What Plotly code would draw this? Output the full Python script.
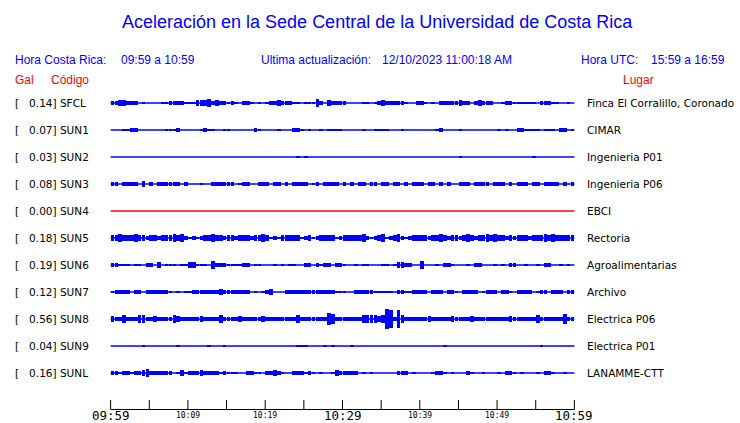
import plotly.graph_objects as go

# ---------------- data ----------------
CODES = ["SFCL", "SUN1", "SUN2", "SUN3", "SUN4", "SUN5", "SUN6", "SUN7", "SUN8", "SUN9", "SUNL"]
GAL = [0.14, 0.07, 0.03, 0.08, 0.00, 0.18, 0.19, 0.12, 0.56, 0.04, 0.16]
PLACES = ["Finca El Corralillo, Coronado", "CIMAR", "Ingenieria P01", "Ingenieria P06", "EBCI",
          "Rectoria", "Agroalimentarias", "Archivo", "Electrica P06", "Electrica P01", "LANAMME-CTT"]
TRACE_COLORS = ["#0000ff"] * 4 + ["#ff0000"] + ["#0000ff"] * 6

TIME_RANGE = [0, 60]          # minutes after 09:59
BIN_MIN = 0.5                  # envelope bins of 30 s
MINOR_TICKS = [0, 5, 10, 15, 20, 25, 30, 35, 40, 45, 50, 55, 60]
TICK_POS = [0, 10, 20, 30, 40, 50, 60]
TICK_LABELS = ["09:59", "10:09", "10:19", "10:29", "10:39", "10:49", "10:59"]
TICK_MAJOR = [True, False, False, True, False, False, True]

# amplitude envelope level per 30 s bin
SFCL = [2,2,3,3,2,2,2,0,1,0, 0,0,0,1,1,2,2,2,2,1, 1,1,3,3,3,4,2,3,2,2, 1,2,1,0,2,2,1,0,1,0,
        1,2,2,3,2,2,2,1,1,0, 1,1,1,4,2,0,3,2,2,2, 2,0,0,0,0,1,1,0,1,2, 3,2,2,2,2,2,1,0,0,2,
        2,1,0,1,0,2,2,2,2,2, 3,2,2,0,2,3,2,2,2,0, 0,1,2,2,1,1,1,1,1,1, 0,2,2,2,1,1,0,0,1,0]
SUN1 = [0,0,0,1,1,2,2,0,0,0, 0,0,0,0,1,1,1,2,0,0, 0,0,0,1,2,1,1,0,0,1, 1,0,0,0,0,0,0,2,1,0,
        0,0,0,1,0,0,0,2,2,1, 0,1,0,0,1,0,1,1,1,1, 0,0,0,0,0,1,0,0,1,1, 1,1,0,0,0,1,0,0,0,0,
        0,0,0,0,1,2,0,0,0,0, 1,0,0,0,0,0,0,0,0,0, 1,0,1,0,0,2,2,1,1,1, 1,0,1,1,1,0,2,2,0,1]
SUN2 = [0,0,0,0,0,0,0,0,0,0, 0,0,0,0,0,0,0,0,0,0, 0,0,0,0,0,0,0,0,0,0, 0,0,0,0,0,0,0,0,0,0,
        0,0,0,0,0,0,0,0,1,0, 1,0,0,0,0,0,0,0,0,0, 0,0,0,0,0,0,0,0,0,0, 0,0,0,0,0,0,0,0,0,0,
        0,0,0,0,0,0,0,0,0,0, 1,0,0,0,0,0,0,0,0,0, 0,0,0,0,0,0,0,0,0,1, 0,0,0,0,0,0,0,0,0,0]
SUN3 = [2,2,0,2,2,2,2,0,3,0, 2,0,2,2,2,2,2,2,0,2, 0,0,0,1,0,0,2,2,2,2, 2,2,0,1,2,2,0,0,2,2,
        2,0,2,2,0,2,0,2,2,2, 2,0,1,2,0,2,2,2,2,0, 2,0,2,0,2,2,0,2,2,0, 2,2,0,2,2,0,2,0,2,2,
        2,0,2,2,0,2,0,2,0,0, 2,2,2,0,2,2,2,2,0,2, 2,2,0,2,0,2,2,2,0,2, 2,0,2,2,2,2,0,2,0,2]
SUN4 = [0] * 120
SUN5 = [3,3,5,3,3,3,5,3,3,2, 3,3,2,3,3,3,5,3,5,2, 1,2,1,2,3,3,5,3,3,2, 3,3,2,3,3,3,2,3,3,5,
        3,1,2,1,3,3,3,3,3,1, 2,3,1,2,3,3,3,3,1,2, 3,3,3,3,3,5,2,1,2,3, 5,1,2,3,5,2,1,2,3,3,
        3,3,2,3,3,5,3,2,3,3, 2,3,5,3,2,3,3,5,3,5, 3,3,2,3,2,3,3,3,2,3, 3,3,5,3,5,3,3,3,3,3]
SUN6 = [2,2,1,1,1,0,1,1,0,2, 2,0,3,0,1,1,1,0,1,1, 3,3,1,1,1,0,4,2,2,2, 1,1,1,1,2,2,0,1,1,0,
        0,0,1,0,1,0,1,1,0,0, 2,2,0,2,1,2,2,0,2,2, 1,0,0,1,0,1,1,0,0,0, 1,1,0,1,3,3,2,2,0,0,
        5,0,0,0,1,0,2,2,1,0, 0,0,1,0,2,2,0,0,0,1, 0,1,0,2,2,0,0,1,0,0, 1,0,2,2,0,0,1,0,1,0]
SUN7 = [1,2,2,2,2,0,2,2,0,2, 2,2,2,2,2,1,0,1,0,1, 1,2,2,2,2,2,2,2,3,2, 2,2,2,2,2,2,0,1,0,1,
        2,3,0,0,0,2,2,2,2,2, 2,2,2,2,2,2,2,2,1,1, 1,0,0,2,2,2,2,2,1,1, 1,1,1,0,2,2,1,1,2,2,
        2,2,0,2,2,2,0,2,2,1, 0,2,2,2,2,0,1,2,2,2, 0,2,2,1,0,2,2,2,2,0, 1,2,2,0,2,2,2,0,2,2]
SUN8 = [3,2,2,4,2,2,2,4,4,2, 2,3,2,2,2,2,4,3,2,2, 2,2,2,3,2,2,2,2,4,2, 2,2,2,3,2,2,2,2,2,3,
        2,2,2,2,2,2,2,2,4,2, 2,2,2,2,2,2,7,6,2,2, 2,2,2,2,2,4,5,5,4,3, 4,13,11,2,11,4,2,2,2,2,
        2,2,3,2,2,2,2,2,3,2, 2,2,2,3,2,2,2,2,2,2, 2,2,2,3,2,2,2,2,2,2, 4,2,2,2,2,2,2,6,2,2]
SUN9 = [0,0,0,0,0,0,0,0,1,0, 0,0,0,0,0,0,0,1,0,0, 0,0,0,0,0,1,0,0,0,1, 0,0,0,0,0,0,0,0,0,0,
        0,0,0,0,0,0,0,0,1,1, 1,0,0,0,0,1,0,1,0,0, 0,0,1,0,0,0,0,0,0,0, 0,0,0,0,0,0,0,0,0,0,
        0,0,0,0,0,0,1,0,0,0, 0,0,0,0,0,0,0,0,0,0, 0,0,0,0,0,0,0,0,0,0, 0,1,0,0,0,0,0,0,0,0]
SUNL = [2,2,1,2,2,1,2,2,3,4, 2,2,2,2,2,2,0,1,3,1, 2,2,2,3,2,2,2,2,1,2, 1,1,1,0,0,2,2,1,1,0,
        2,2,3,2,1,0,0,2,2,2, 1,2,1,0,1,0,0,1,3,2, 2,2,2,2,0,1,0,1,0,0, 0,0,0,0,2,2,2,0,1,0,
        0,0,0,1,2,2,1,0,1,0, 0,0,2,1,0,0,1,0,0,0, 1,0,2,2,1,0,1,0,0,0, 1,0,2,2,1,0,0,1,0,0]
ENVELOPES = [SFCL, SUN1, SUN2, SUN3, SUN4, SUN5, SUN6, SUN7, SUN8, SUN9, SUNL]

# ---------------- geometry ----------------
W, H = 740, 423
ML, MR, MT, MB = 110, 165, 90, 8
PW, PH = W - ML - MR, H - MT - MB
ROW_PX = 27.0
FIRST_ROW_PX = 103.0
AXIS_PX = 409.5
TICK_LEN_PX = 9.5
Y_BOTTOM = -((H - MB) - FIRST_ROW_PX) / ROW_PX
Y_TOP = Y_BOTTOM + PH / ROW_PX
X_PAD = 0.08
X_RANGE = [TIME_RANGE[0] - X_PAD, TIME_RANGE[1] + X_PAD]
Y_AXIS = -(AXIS_PX - FIRST_ROW_PX) / ROW_PX
Y_TICKTOP = Y_AXIS + TICK_LEN_PX / ROW_PX


def py(p):
    return ((H - MB) - p) / PH


def px(p):
    return (p - ML) / PW


BLUE = "#0000ff"
RED = "#ff0000"

fig = go.Figure()

for i, (env, col) in enumerate(zip(ENVELOPES, TRACE_COLORS)):
    c = -i
    fig.add_trace(go.Scatter(x=TIME_RANGE, y=[c, c], mode="lines",
                             line=dict(color=col, width=1.5), showlegend=False, hoverinfo="skip"))
    xs, bases, hs = [], [], []
    for k, lvl in enumerate(env):
        if lvl > 0:
            half = (0.75 * lvl + 0.6) / ROW_PX
            xs.append(TIME_RANGE[0] + (k + 0.5) * BIN_MIN)
            bases.append(c - half)
            hs.append(2 * half)
    if xs:
        fig.add_trace(go.Bar(x=xs, y=hs, base=bases, width=BIN_MIN * 0.95,
                             marker=dict(color=col, line=dict(width=0)),
                             showlegend=False, hoverinfo="skip"))

# time axis: baseline and tick marks
ax_x, ax_y = list(TIME_RANGE) + [None], [Y_AXIS, Y_AXIS, None]
for t in MINOR_TICKS:
    ax_x += [t, t, None]
    ax_y += [Y_AXIS, Y_TICKTOP, None]
fig.add_trace(go.Scatter(x=ax_x, y=ax_y, mode="lines", line=dict(color="black", width=1),
                         cliponaxis=False, showlegend=False, hoverinfo="skip"))

ann = []
# title and header
ann.append(dict(text="Aceleración en la Sede Central de la Universidad de Costa Rica",
                x=px(377), y=py(22), xanchor="center", yanchor="middle",
                font=dict(family="Liberation Sans", size=18, color=BLUE)))
header = [("Hora Costa Rica:", 13), ("09:59 a 10:59", 119), ("Ultima actualización:", 259),
          ("12/10/2023 11:00:18 AM", 380), ("Hora UTC:", 579), ("15:59 a 16:59", 649)]
for t, xx in header:
    ann.append(dict(text=t, x=px(xx), y=py(60), xanchor="left", yanchor="middle",
                    font=dict(family="Liberation Sans", size=12, color=BLUE)))
for t, xx in [("Gal", 13), ("Código", 49), ("Lugar", 621)]:
    ann.append(dict(text=t, x=px(xx), y=py(80), xanchor="left", yanchor="middle",
                    font=dict(family="Liberation Sans", size=12, color=RED)))

NB = "\u00a0"
for i, (code, g, place) in enumerate(zip(CODES, GAL, PLACES)):
    ann.append(dict(text="[" + NB * 3 + f"{g:.2f}]" + NB + code, x=px(13), y=-i,
                    xref="paper", yref="y", xanchor="left", yanchor="middle",
                    font=dict(family="DejaVu Sans", size=10.5, color="black")))
    ann.append(dict(text=place, x=px(585), y=-i,
                    xref="paper", yref="y", xanchor="left", yanchor="middle",
                    font=dict(family="DejaVu Sans", size=10.5, color="black")))

for pos, lab, major in zip(TICK_POS, TICK_LABELS, TICK_MAJOR):
    ann.append(dict(text=lab, x=pos, y=py(415.5 if major else 416), xref="x", yref="paper",
                    xanchor="center", yanchor="middle", borderpad=0, borderwidth=0,
                    font=dict(family="DejaVu Sans Mono", size=12.5 if major else 8, color="black")))

for a in ann:
    a.setdefault("xref", "paper")
    a.setdefault("yref", "paper")
    a["showarrow"] = False

fig.update_layout(
    width=W, height=H,
    margin=dict(l=ML, r=MR, t=MT, b=MB, pad=0),
    paper_bgcolor="white", plot_bgcolor="white",
    barmode="overlay", bargap=0,
    showlegend=False,
    annotations=ann,
    xaxis=dict(range=X_RANGE, visible=False, showgrid=False, zeroline=False,
               automargin=False, fixedrange=True),
    yaxis=dict(range=[Y_BOTTOM, Y_TOP], visible=False, showgrid=False, zeroline=False,
               automargin=False, fixedrange=True),
)

fig.write_html("out.html", config={"displayModeBar": False},
               post_script="document.body.style.margin='0';document.body.style.padding='0';")
